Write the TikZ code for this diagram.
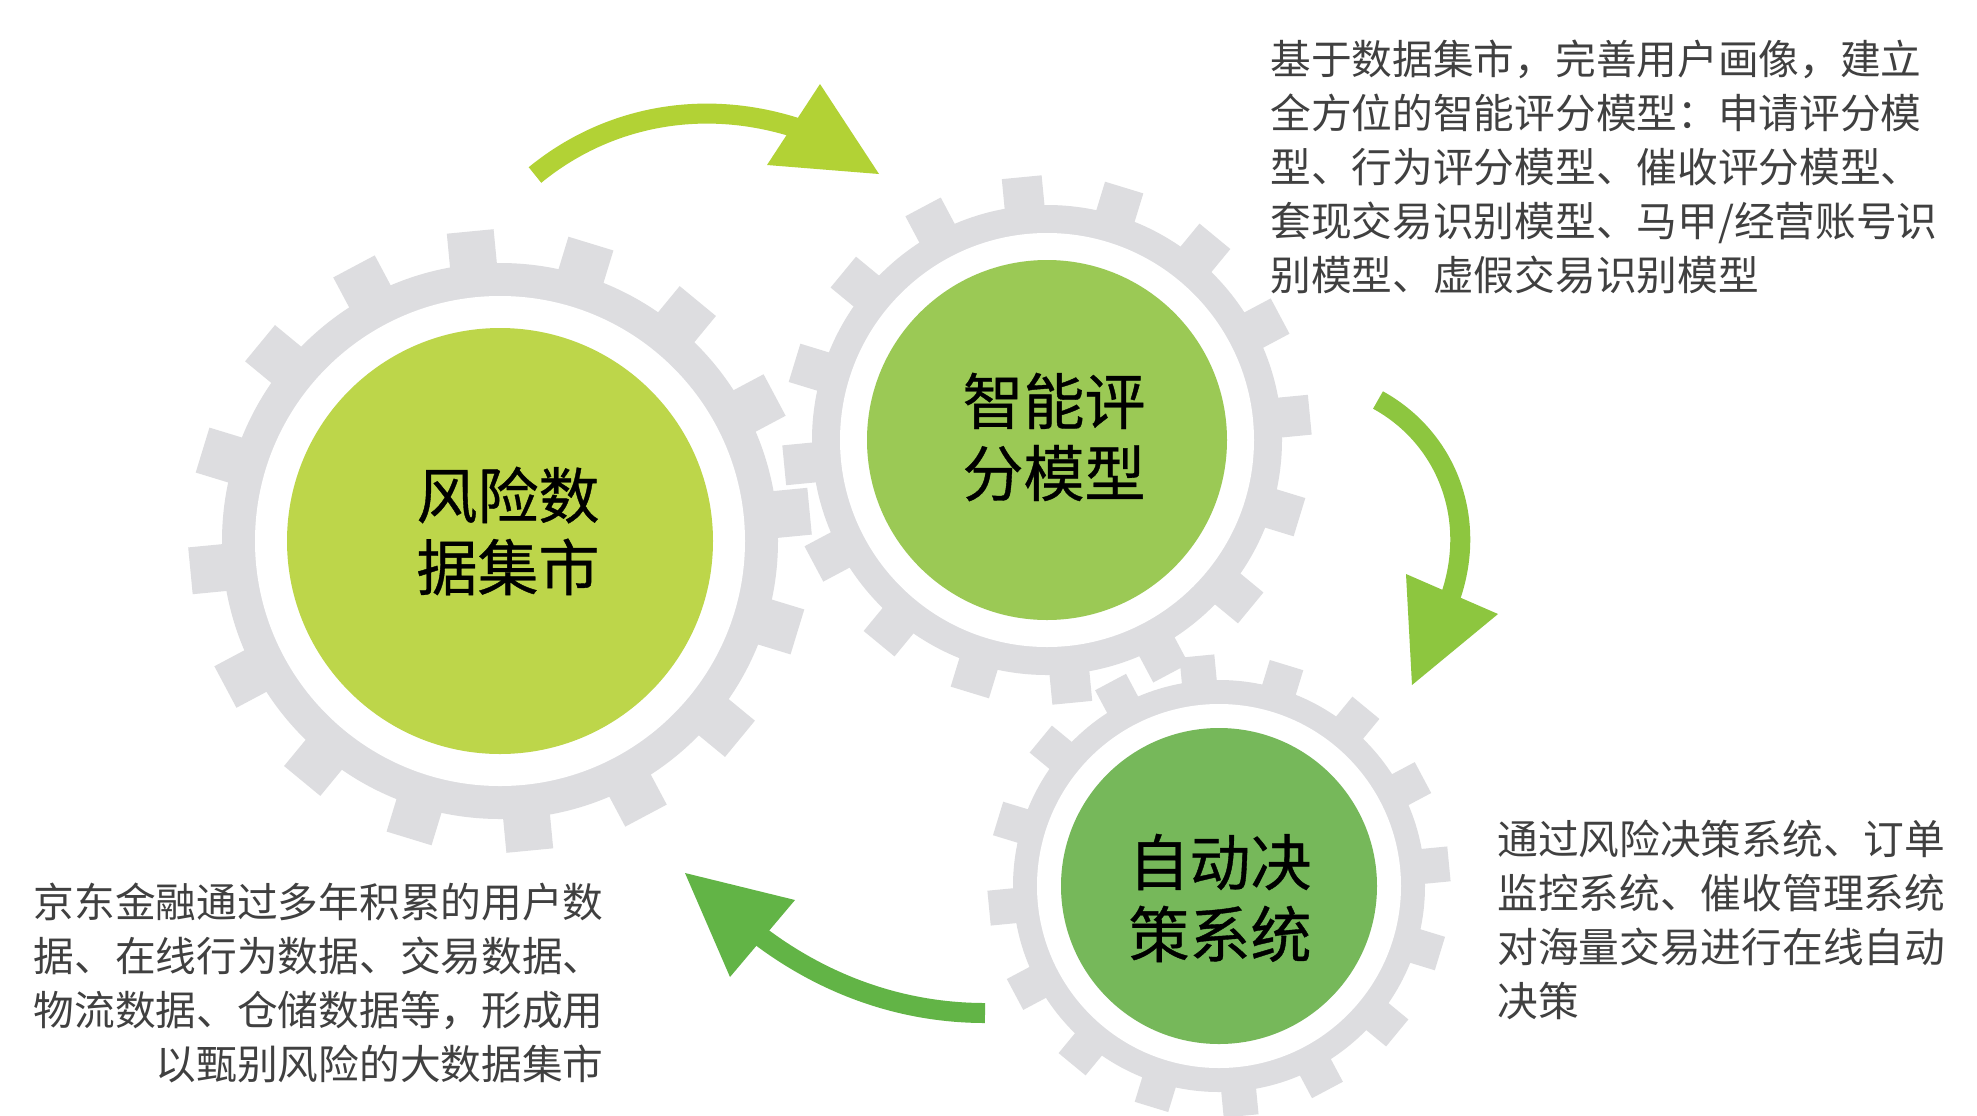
\documentclass[tikz,border=0pt]{standalone}
\usepackage{fontspec}
\newfontfamily\cjk{Noto Sans CJK SC}
\newfontfamily\cjkheavy{Noto Sans CJK SC}[FakeBold=0.6]
\usepackage{tikz}
\usetikzlibrary{shapes}

\definecolor{geargray}{RGB}{221,221,224}
\definecolor{martgreen}{RGB}{189,214,74}
\definecolor{scoregreen}{RGB}{155,201,85}
\definecolor{decidegreen}{RGB}{118,184,90}
\definecolor{arrowone}{RGB}{178,210,53}
\definecolor{arrowtwo}{RGB}{141,198,63}
\definecolor{arrowthree}{RGB}{98,180,70}
\definecolor{notegray}{RGB}{64,64,64}

\begin{document}
\begin{tikzpicture}[x=0.5pt,y=-0.5pt]
    % units are pixels of the original, y runs downwards
    \tikzstyle{disc}=[circle,inner sep=0pt,draw=none]
    \tikzstyle{gearlabel}=[font=\cjkheavy\fontsize{30.5}{36}\selectfont,align=center,text=black]
    \tikzstyle{note}=[font=\cjk\fontsize{20.35}{27}\selectfont,text=notegray,inner sep=0pt]
    \tikzstyle{shaft}=[line width=10pt]

    \fill[white] (0,0) rectangle (1977,1115);
    \useasboundingbox (0,0) rectangle (1977,1115);

    % gray gears: centre, inner ring, base, tip, half tooth
    \foreach \cx/\cy/\rin/\rbase/\rtip/\hw in {500/541/245/278/311/23.5,
        1047/440/207/235/264/20, 1219/886/182/206/231/17.5} {
      \begin{scope}[shift={(\cx,\cy)}]
        \fill[geargray] (0,0) circle[radius=\rbase];
        \foreach \k in {0,...,15}
          \fill[geargray,rotate=5.5+22.5*\k] (\rbase-6,-\hw) rectangle (\rtip,\hw);
        \fill[white] (0,0) circle[radius=\rin];
      \end{scope}
    }

    \node[disc,fill=martgreen,minimum size=213pt] (mart) at (500,541) {};
    \node[gearlabel] (martlabel) at ([shift={(8,-10)}]mart.center) {风险数\\据集市};
    \node[disc,fill=scoregreen,minimum size=180pt] (score) at (1047,440) {};
    \node[gearlabel] (scorelabel) at ([shift={(7,-3)}]score.center) {智能评\\分模型};
    \node[disc,fill=decidegreen,minimum size=158pt] (decide) at (1219,886) {};
    \node[gearlabel] (decidelabel) at ([shift={(1,12)}]decide.center) {自动决\\策系统};

    % curved arrows
    \coordinate (topfrom) at (535,175);
    \coordinate (topend) at (800,129);
    \coordinate (toptip) at (879,174);
    \draw[shaft,arrowone] (topfrom) .. controls (607,116) and (704,97) .. (topend);
    \fill[arrowone] (820,84) -- (toptip) -- (767,165) -- cycle;

    \coordinate (rightfrom) at (1378,400);
    \coordinate (rightend) at (1449,601);
    \coordinate (righttip) at (1412,685);
    \draw[shaft,arrowtwo] (rightfrom) .. controls (1447,438) and (1479,520) .. (rightend);
    \fill[arrowtwo] (1406,574) -- (1498,614) -- (righttip) -- cycle;

    \coordinate (lowfrom) at (985,1013);
    \coordinate (lowend) at (756,933);
    \coordinate (lowtip) at (685,873);
    \draw[shaft,arrowthree] (lowfrom) .. controls (905,1013) and (826,987) .. (lowend);
    \fill[arrowthree] (lowtip) -- (795,900) -- (730,977) -- cycle;

    % notes
    \node[note,anchor=north west,align=left] (scorenote) at (1270,40)
      {基于数据集市，完善用户画像，建立\\全方位的智能评分模型：申请评分模\\型、行为评分模型、催收评分模型、\\套现交易识别模型、马甲/经营账号识\\别模型、虚假交易识别模型};
    \node[note,anchor=north east,align=right] (martnote) at (604,883)
      {京东金融通过多年积累的用户数\\据、在线行为数据、交易数据、\\物流数据、仓储数据等，形成用\\以甄别风险的大数据集市};
    \node[note,anchor=north west,align=left] (decidenote) at (1497,820)
      {通过风险决策系统、订单\\监控系统、催收管理系统\\对海量交易进行在线自动\\决策};
\end{tikzpicture}
\end{document}
